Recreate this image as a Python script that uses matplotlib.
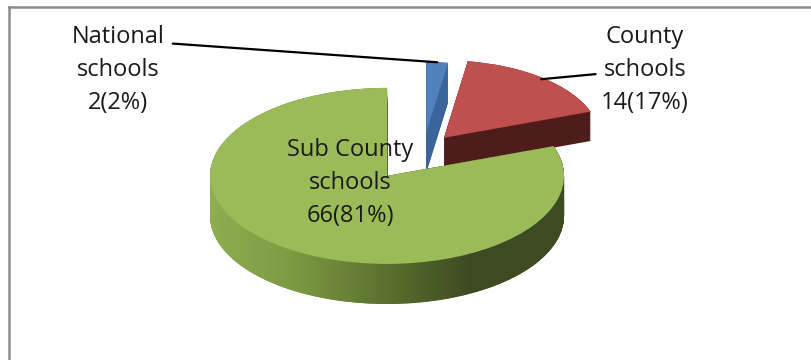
import matplotlib
matplotlib.use('Agg')
import matplotlib.pyplot as plt
import numpy as np
from matplotlib.path import Path
from matplotlib.patches import PathPatch
from matplotlib.colors import LinearSegmentedColormap
from matplotlib.lines import Line2D

categories = ['National\nschools', 'County\nschools', 'Sub County\nschools']
values = [2, 14, 66]
percents = [2, 17, 81]
explode = [0.20, 0.18, 0.36]
radius_scale = [0.8, 0.88, 1.0]    # perspective shrink of the far slices
depth_scale = [1.0, 0.75, 1.0]     # far slice looks thinner
top_colors = ['#4f81bd', '#c0504d', '#9bbb59']
side_colors = ['#3a659c', '#4f1c1c', '#5d7531']

plt.rcParams['font.family'] = ['Open Sans', 'DejaVu Sans']

fig = plt.figure(figsize=(8.12, 3.6), dpi=100)
ax = fig.add_axes([0, 0, 1, 1])

DEPTH = 0.455
green_side_paths = []
for t in np.linspace(DEPTH, 0, 50):
    wedges, _ = ax.pie(values, startangle=90, counterclock=False, explode=explode,
                       colors=side_colors, center=(0, -t),
                       wedgeprops=dict(linewidth=0, zorder=1))
    for w, s, d in zip(wedges, radius_scale, depth_scale):
        w.set_radius(w.r * s)
        w.set_visible(t <= DEPTH * d + 1e-9)
    green_side_paths.append(wedges[2].get_path())

# gradient shading on the green side wall
cmap = LinearSegmentedColormap.from_list(
    'gside', [(0, '#8fae52'), (0.25, '#7a9841'), (0.53, '#556b2c'),
              (0.73, '#3e4b22'), (1, '#3e4b22')])
grad = np.linspace(0, 1, 512)[None, :]
im = ax.imshow(grad, cmap=cmap, extent=[-1.21, 0.80, -2.0, 0.6], aspect='auto',
               zorder=2, interpolation='bilinear')
clip = PathPatch(Path.make_compound_path(*green_side_paths), transform=ax.transData)
im.set_clip_path(clip)

top_wedges, _ = ax.pie(values, startangle=90, counterclock=False, explode=explode,
                       colors=top_colors, wedgeprops=dict(linewidth=0, zorder=3))
for w, s in zip(top_wedges, radius_scale):
    w.set_radius(w.r * s)

def edge_point(w, frac):
    ang = np.deg2rad((w.theta1 + w.theta2) / 2)
    cx, cy = w.center
    return (cx + frac * w.r * np.cos(ang), cy + frac * w.r * np.sin(ang))

labels = [f"{c}\n{v}({p}%)" for c, v, p in zip(categories, values, percents)]
fs = 17
ls = 1.5

ax.annotate(labels[0], xy=edge_point(top_wedges[0], 1.0), xycoords='data',
            xytext=(118 / 812, 1 - 70 / 360), textcoords='axes fraction',
            ha='center', va='center', fontsize=fs, linespacing=ls, color='#1a1a1a',
            arrowprops=dict(arrowstyle='-', color='black', lw=1.6,
                            relpos=(1.0, 0.80), shrinkA=4, shrinkB=0),
            zorder=5)
ax.annotate(labels[1], xy=edge_point(top_wedges[1], 0.98), xycoords='data',
            xytext=(645 / 812, 1 - 70 / 360), textcoords='axes fraction',
            ha='center', va='center', fontsize=fs, linespacing=ls, color='#1a1a1a',
            arrowprops=dict(arrowstyle='-', color='black', lw=1.6,
                            relpos=(0.0, 0.46), shrinkA=2, shrinkB=0),
            zorder=5)
ax.text(350 / 812, 1 - 183 / 360, labels[2], transform=ax.transAxes,
        ha='center', va='center', fontsize=fs, linespacing=ls, color='#1a1a1a',
        zorder=5)

ax.set_aspect('auto')
ax.set_xlim(-423.7 / 177, (812 - 423.7) / 177)
ax.set_ylim((150 - 360) / 88, 150 / 88)
ax.axis('off')

# chart frame (top and left borders visible)
fig.add_artist(Line2D([9 / 812, 1.0], [1 - 7 / 360, 1 - 7 / 360], color='#8c8c8c',
                      lw=1.8, transform=fig.transFigure))
fig.add_artist(Line2D([9 / 812, 9 / 812], [0, 1 - 7 / 360], color='#8c8c8c',
                      lw=1.8, transform=fig.transFigure))

fig.savefig('out.png', dpi=100, facecolor='white')
